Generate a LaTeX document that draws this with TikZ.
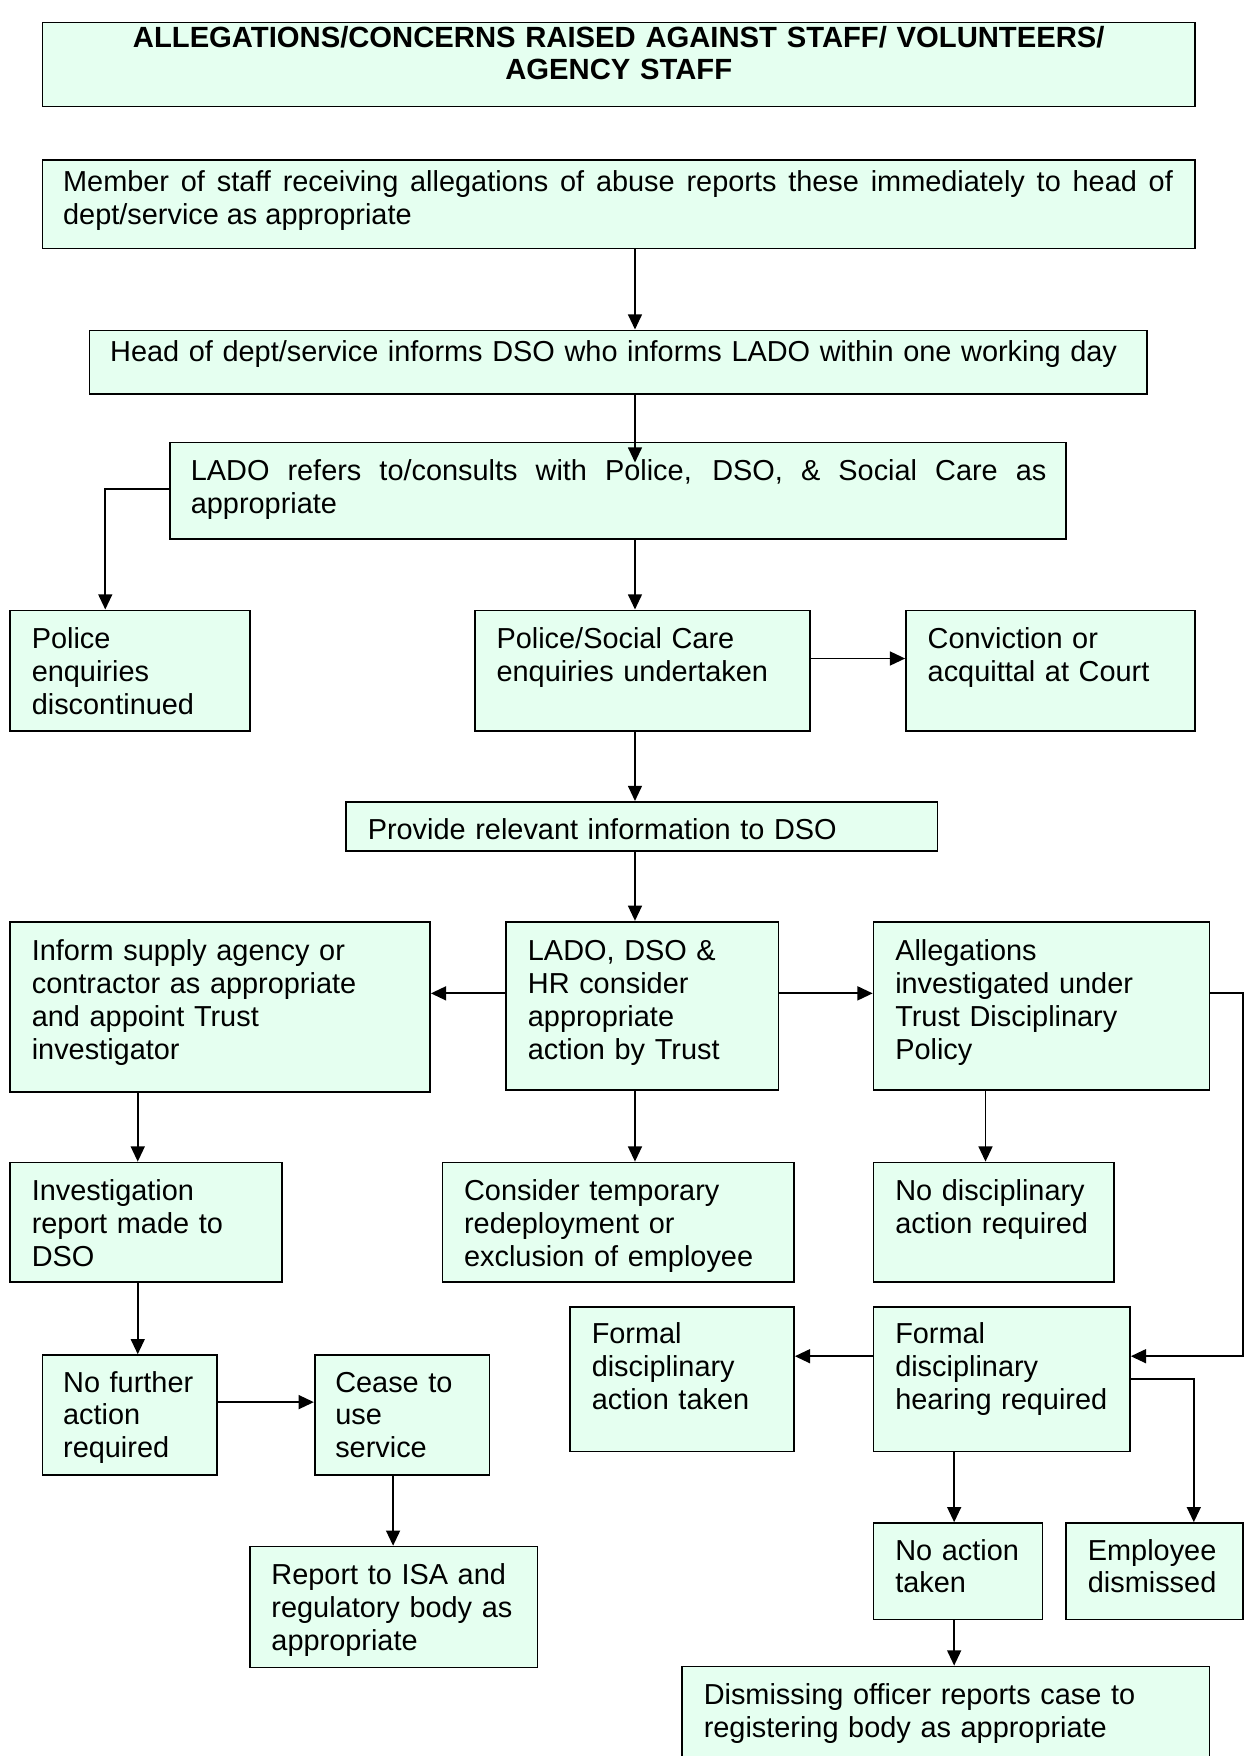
\documentclass[tikz,border=0pt]{standalone}
\usepackage{fontspec}
\setmainfont{Liberation Sans}
\usetikzlibrary{fit,arrows.meta}
\definecolor{boxfill}{RGB}{229,255,240}
\tikzset{
  box/.style={draw=black, fill=boxfill, line width=0.75pt, inner sep=0pt},
  txt/.style={anchor=base west, inner sep=0pt, align=left, text width=#1,
    font=\fontsize{12.9}{14.7}\selectfont},
  txt/.default=200pt,
  arr/.style={line width=0.85pt, -{Triangle[length=6.8pt,width=6.2pt]}},
}
\begin{document}
\begin{tikzpicture}[x=0.5pt,y=-0.5pt]
\useasboundingbox (0,0) rectangle (1114,1568);
\fill[white] (0,0) rectangle (1114,1568);

% boxes
\node[box, fit={(38,20)(1067,95)}] (title) {};
\node[box, fit={(38,143)(1067,222)}] (member) {};
\node[box, fit={(80,295)(1024,352)}] (head) {};
\node[box, fit={(152,395)(952,481)}] (lado) {};
\node[box, fit={(9,545)(223,653)}] (pdisc) {};
\node[box, fit={(424,545)(723,653)}] (psc) {};
\node[box, fit={(809,545)(1067,653)}] (conv) {};
\node[box, fit={(309,716)(837,760)}] (provide) {};
\node[box, fit={(9,823)(384,975)}] (inform) {};
\node[box, fit={(452,823)(695,973)}] (ldh) {};
\node[box, fit={(780,823)(1080,973)}] (alleg) {};
\node[box, fit={(9,1038)(252,1145)}] (invest) {};
\node[box, fit={(395,1038)(709,1145)}] (consider) {};
\node[box, fit={(780,1038)(995,1145)}] (nodisc) {};
\node[box, fit={(38,1210)(194,1317)}] (nofurther) {};
\node[box, fit={(281,1210)(437,1317)}] (cease) {};
\node[box, fit={(223,1381)(480,1489)}] (report) {};
\node[box, fit={(509,1167)(709,1296)}] (ftaken) {};
\node[box, fit={(780,1167)(1009,1296)}] (fhear) {};
\node[box, fit={(780,1360)(931,1446)}] (noaction) {};
\node[box, fit={(952,1360)(1110,1446)}] (empdis) {};
\node[box, fit={(609,1488)(1080,1610)}] (dismiss) {};

% texts
\node[txt=520pt, anchor=base, align=center, font=\bfseries\fontsize{13.05}{14.5}\selectfont] (title-t) at (552.5,42)
  {ALLEGATIONS/CONCERNS RAISED AGAINST STAFF/ VOLUNTEERS/\\AGENCY STAFF};
\node[txt=495.5pt, align=justify] (member-t) at (56,171)
  {Member of staff receiving allegations of abuse reports these immediately to head of\linebreak dept/service as appropriate};
\node[txt=480pt] (head-t) at (98,323)
  {Head of dept/service informs DSO who informs LADO within one working day};
\node[txt=382pt, align=justify] (lado-t) at (170,429)
  {LADO refers to/consults with Police, DSO, \& Social Care as\linebreak appropriate};
\node[txt] (pdisc-t) at (28,579) {Police\\enquiries\\discontinued};
\node[txt] (psc-t) at (443,579) {Police/Social Care\\enquiries undertaken};
\node[txt] (conv-t) at (828,579) {Conviction or\\acquittal at Court};
\node[txt=250pt] (provide-t) at (328,750) {Provide relevant information to DSO};
\node[txt] (inform-t) at (28,858) {Inform supply agency or\\contractor as appropriate\\and appoint Trust\\investigator};
\node[txt] (ldh-t) at (471,858) {LADO, DSO \&\\HR consider\\appropriate\\action by Trust};
\node[txt] (alleg-t) at (799,858) {Allegations\\investigated under\\Trust Disciplinary\\Policy};
\node[txt] (invest-t) at (28,1072) {Investigation\\report made to\\DSO};
\node[txt] (consider-t) at (414,1072) {Consider temporary\\redeployment or\\exclusion of employee};
\node[txt] (nodisc-t) at (799,1072) {No disciplinary\\action required};
\node[txt] (nofurther-t) at (56,1243) {No further\\action\\required};
\node[txt] (cease-t) at (299,1243) {Cease to\\use\\service};
\node[txt] (report-t) at (242,1415) {Report to ISA and\\regulatory body as\\appropriate};
\node[txt] (ftaken-t) at (528,1200) {Formal\\disciplinary\\action taken};
\node[txt] (fhear-t) at (799,1200) {Formal\\disciplinary\\hearing required};
\node[txt] (noaction-t) at (799,1393) {No action\\taken};
\node[txt] (empdis-t) at (971,1393) {Employee\\dismissed};
\node[txt=240pt] (dismiss-t) at (628,1522) {Dismissing officer reports case to\\registering body as appropriate};

% helper coordinates
\coordinate (cx) at (567,0);
\coordinate (ladotip) at (567,413);
\coordinate (ladoL) at (94,437);
\coordinate (r588) at (0,588);
\coordinate (r887) at (0,887);
\coordinate (rx) at (1110,887);
\coordinate (fx) at (1110,1211);
\coordinate (c123) at (123,0);
\coordinate (c880) at (880,0);
\coordinate (r1252) at (0,1252);
\coordinate (c351) at (351,0);
\coordinate (ex) at (1066,1231);
\coordinate (c852) at (852,0);

% connectors
\draw[arr] (member.south -| cx) -- (head.north -| cx);
\draw[arr] (head.south -| cx) -- (ladotip);
\draw[arr] (lado.west |- ladoL) -- (ladoL) -- (pdisc.north -| ladoL);
\draw[arr] (lado.south -| cx) -- (psc.north -| cx);
\draw[arr] (psc.east |- r588) -- (conv.west |- r588);
\draw[arr] (psc.south -| cx) -- (provide.north -| cx);
\draw[arr] (provide.south -| cx) -- (ldh.north -| cx);
\draw[arr] (ldh.west |- r887) -- (inform.east |- r887);
\draw[arr] (ldh.east |- r887) -- (alleg.west |- r887);
\draw[arr] (alleg.east |- r887) -- (rx) -- (fx) -- (fhear.east |- fx);
\draw[arr] (inform.south -| c123) -- (invest.north -| c123);
\draw[arr] (ldh.south -| cx) -- (consider.north -| cx);
\draw[arr] (alleg.south -| c880) -- (nodisc.north -| c880);
\draw[arr] (invest.south -| c123) -- (nofurther.north -| c123);
\draw[arr] (nofurther.east |- r1252) -- (cease.west |- r1252);
\draw[arr] (cease.south -| c351) -- (report.north -| c351);
\draw[arr] (fhear.west |- fx) -- (ftaken.east |- fx);
\draw[arr] (fhear.east |- ex) -- (ex) -- (empdis.north -| ex);
\draw[arr] (fhear.south -| c852) -- (noaction.north -| c852);
\draw[arr] (noaction.south -| c852) -- (dismiss.north -| c852);
\end{tikzpicture}
\end{document}
